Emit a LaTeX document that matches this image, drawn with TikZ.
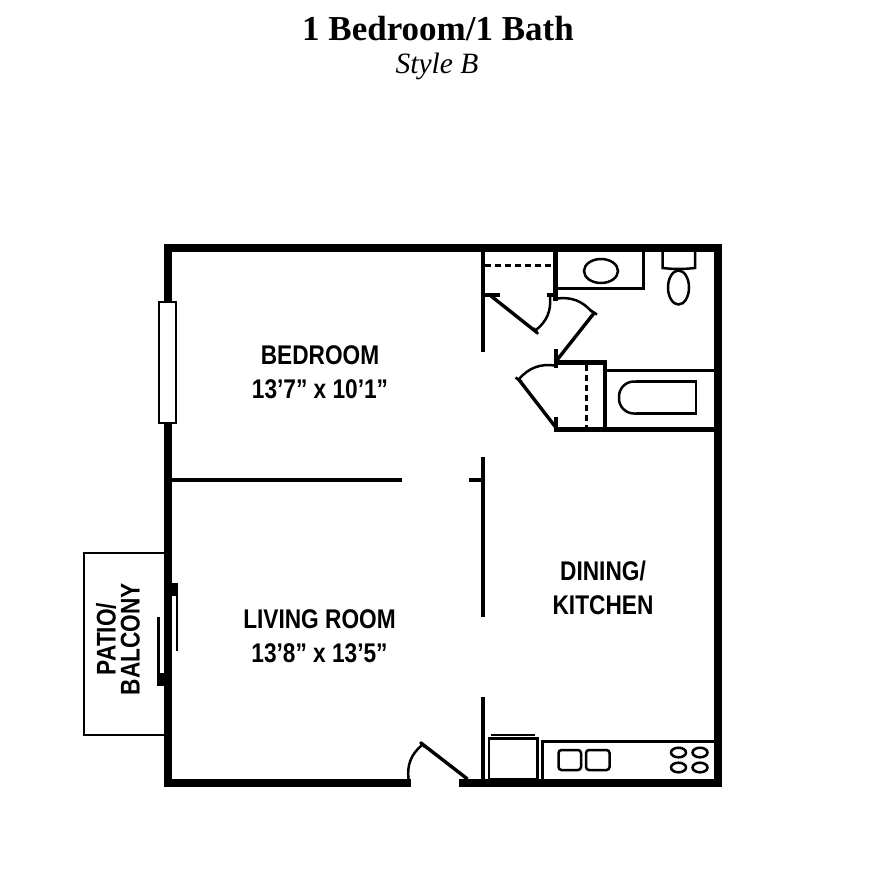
\documentclass[tikz,border=0pt]{standalone}
\usepackage{fontspec}
\setmainfont{Liberation Serif}
\newfontfamily\labelfont[FakeStretch=0.84]{Liberation Sans}
\usetikzlibrary{positioning,calc}
\tikzset{
    wall/.style={line width=8pt},
    partition/.style={line width=4.4pt},
    leaf/.style={line width=3.4pt},
    fixture/.style={line width=2.5pt},
    swing/.style={line width=2.5pt},
    hidden/.style={line width=3pt, dash pattern=on 6pt off 4pt},
    roomlabel/.style={font=\labelfont\bfseries\fontsize{27}{33.5}\selectfont, align=center, inner sep=0pt},
}
\begin{document}
\begin{tikzpicture}[x=1pt,y=-1pt]
    \useasboundingbox (0,0) rectangle (882,894);

    \node[font=\bfseries\fontsize{35}{38}\selectfont, inner sep=0pt] (title) at (438,29) {1 Bedroom/1 Bath};
    \node[font=\itshape\fontsize{29.5}{32}\selectfont, inner sep=0pt] (subtitle) at (437,66) {Style B};

    \draw[fixture] (164,553) -- (84,553) -- (84,735) -- (164,735);
    \draw[wall] (411,783) -- (167.5,783) -- (167.5,248) -- (718,248) -- (718,783) -- (459,783);

    \draw[fixture, fill=white] (159,302) rectangle (176,423);

    \fill (171,583) rectangle (178,596);
    \draw[fixture] (177,596) -- (177,651);
    \fill (157,673) rectangle (164,686);
    \draw[fixture] (158.5,617) -- (158.5,673);

    \draw[partition] (171,480) -- (402,480);
    \draw[partition] (469,480) -- (483,480);
    \draw[partition] (483,252) -- (483,352);
    \draw[partition] (483,457) -- (483,617);
    \draw[partition] (483,697) -- (483,779);

    \draw[partition] (555.5,252) -- (555.5,301);
    \draw[partition] (483,295) -- (499.5,295);
    \draw[partition] (547,295) -- (557,295);
    \draw[partition] (556,349) -- (556,368);
    \draw[partition] (554,362.5) -- (607,362.5);
    \draw[partition] (605,362) -- (605,430);
    \draw[partition] (554,429.5) -- (714,429.5);
    \draw[partition] (556,417) -- (556,430);

    \draw[hidden] (485,265.5) -- (554,265.5);
    \draw[hidden] (586.5,365) -- (586.5,428);

    \draw[leaf] (491,296) -- (537,332.5);
    \draw[fixture] (533.5,328) -- (538,334);
    \draw[swing] (536,330) to[bend right=28] (550,297);

    \draw[leaf] (557,360) -- (594.5,312.5);
    \draw[fixture] (590,310) -- (597,314.5);
    \draw[swing] (557,298.5) to[bend left=28] (592,312);

    \draw[leaf] (555.5,427) -- (518,378.5);
    \draw[fixture] (515.5,377.5) -- (522,382);
    \draw[swing] (519,379) to[bend left=28] (555,365.5);

    \draw[leaf] (467.5,779) -- (421,743);
    \draw[fixture] (420,742) -- (425,747);
    \draw[swing] (422,745) to[bend right=28] (408.5,779);

    \draw[fixture] (557,288.5) -- (643.5,288.5) -- (643.5,252);
    \draw[fixture] (601,271) ellipse (17 and 12);
    \draw[fixture] (662.5,252) -- (662.5,268) to[bend right=6] (695,268) -- (695,252);
    \draw[fixture] (678.5,287.5) ellipse (10.5 and 17);

    \draw[fixture] (606,370.5) -- (714,370.5);
    \draw[fixture, rounded corners=15pt] (640,381.5) -- (619,381.5) -- (619,413.5) -- (640,413.5);
    \draw[fixture] (636,381.5) -- (696,381.5) -- (696,413.5) -- (636,413.5);

    \draw[fixture] (489,779) rectangle (537.5,738.5);
    \draw[fixture] (490.5,735) -- (535,735);
    \draw[fixture] (542.5,779) -- (542.5,741.5) -- (714,741.5);
    \draw[fixture, rounded corners=3pt] (558.5,750) rectangle (581,770);
    \draw[fixture, rounded corners=3pt] (586,750) rectangle (609.5,770);
    \foreach \cx in {678.5,700}
        \foreach \cy in {752.5,767.5}
            \draw[fixture] (\cx,\cy) ellipse (7.5 and 4.8);

    \node[roomlabel] (bedroom) at (320,372) {BEDROOM\\13’7” x 10’1”};
    \node[roomlabel] (livingroom) at (319.5,636) {LIVING ROOM\\13’8” x 13’5”};
    \node[roomlabel] (kitchen) at (603,588) {DINING/\\KITCHEN};
    \node[roomlabel, rotate=90, font=\labelfont\bfseries\fontsize{27}{24}\selectfont] (patio) at (118,639) {PATIO/\\BALCONY};
\end{tikzpicture}
\end{document}
